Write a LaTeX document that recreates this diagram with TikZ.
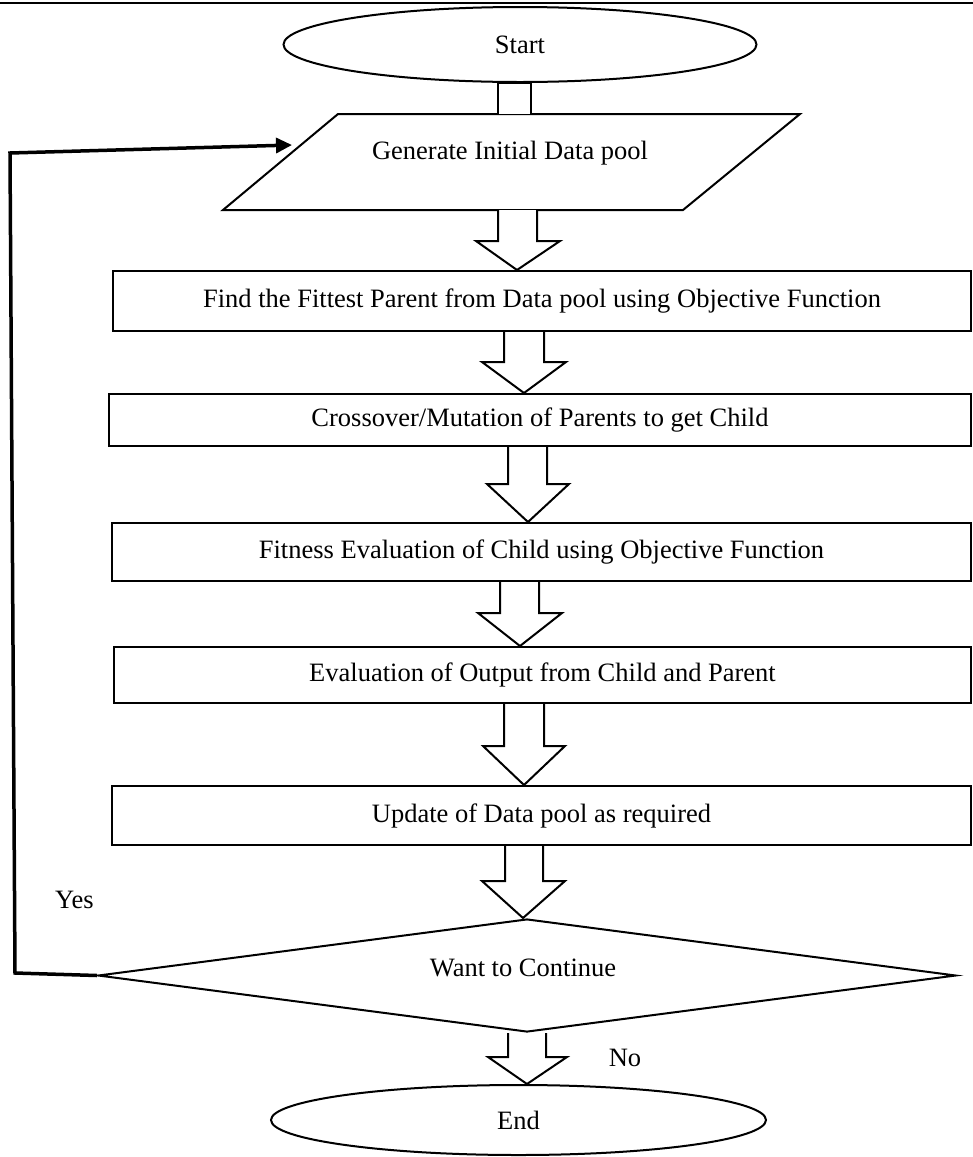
\documentclass[tikz,border=0pt]{standalone}
\usepackage{fontspec}
\setmainfont{Liberation Serif}
\usetikzlibrary{shapes.geometric,arrows.meta,calc}
\begin{document}
\begin{tikzpicture}[x=1pt,y=-1pt,
  every node/.style={font=\fontsize{26.5}{30}\selectfont},
  box/.style={draw,line width=2pt,rectangle,inner sep=0pt},
  term/.style={draw,line width=2pt,ellipse,inner sep=0pt},
  conn/.style={draw,line width=2pt,fill=white,line join=miter},
  loopline/.style={line width=3.5pt,-{Triangle[length=16pt,width=15pt]}},
  lbl/.style={inner sep=0pt}]
\useasboundingbox (0,0) rectangle (973,1157);
\draw[line width=2pt] (0,3) -- (973,3);
% terminals
\node[term,minimum width=473pt,minimum height=75pt] (start) at (520,44.5) {Start};
\node[term,minimum width=495pt,minimum height=70pt] (end) at (518.5,1120) {End};
% parallelogram
\coordinate (gtl) at (338,114);
\coordinate (gtr) at (800,114);
\coordinate (gbr) at (683,210);
\coordinate (gbl) at (223,210);
\draw[line width=2pt,line join=miter] (gtl) -- (gtr) -- (gbr) -- (gbl) -- cycle;
\node[lbl] (gen) at (510,153) {Generate Initial Data pool};
\coordinate (gin) at (292,145);
% boxes
\node[box,minimum width=858pt,minimum height=60pt] (find) at (542,301) {Find the Fittest Parent from Data pool using Objective Function};
\node[box,minimum width=862pt,minimum height=52pt] (cross) at (540,420) {Crossover/Mutation of Parents to get Child};
\node[box,minimum width=859pt,minimum height=58pt] (fit) at (541.5,552) {Fitness Evaluation of Child using Objective Function};
\node[box,minimum width=857pt,minimum height=56pt] (eval) at (542.5,675) {Evaluation of Output from Child and Parent};
\node[box,minimum width=859pt,minimum height=59pt] (upd) at (541.5,815.5) {Update of Data pool as required};
% decision
\node[draw,line width=2pt,diamond,aspect=7.6,inner sep=0pt,minimum width=858pt,minimum height=113pt] (dec) at (527,975.5) {};
\node[lbl] (dectext) at (523,968) {Want to Continue};
% labels
\node[lbl] (yes) at (74.5,900) {Yes};
\node[lbl] (no) at (625,1058) {No};
% start -> generate connector
\draw[conn] let \p1=(start.south) in (498,114) -- (498,\y1) -- (531,\y1) -- (531,114);
% block arrows: from, to, shaft left, shaft right, head left, head right, tip x, head start y
\newcommand\barr[8]{%
  \draw[conn] let \p1=(#1), \p2=(#2) in
    (#3,\y1) -- (#3,#8) -- (#5,#8) -- (#7,\y2) -- (#6,#8) -- (#4,#8) -- (#4,\y1);}
\barr{gbl -| gen}{find.north}{498}{537}{476}{560}{517}{241}
\barr{find.south}{cross.north}{504}{544}{482}{566}{524}{362}
\barr{cross.south}{fit.north}{508}{547}{487}{569}{528}{484}
\barr{fit.south}{eval.north}{500}{539}{478}{562}{520}{613}
\barr{eval.south}{upd.north}{504}{544}{483}{565}{524}{746}
\barr{upd.south}{dec.north}{505}{543}{482}{565}{523}{881}
\barr{dec.south}{end.north}{508}{546}{488}{567}{527}{1057}
% loop back
\draw[loopline] (dec.west) -- (15,973) -- (10,153) -- (gin);
\end{tikzpicture}
\end{document}
